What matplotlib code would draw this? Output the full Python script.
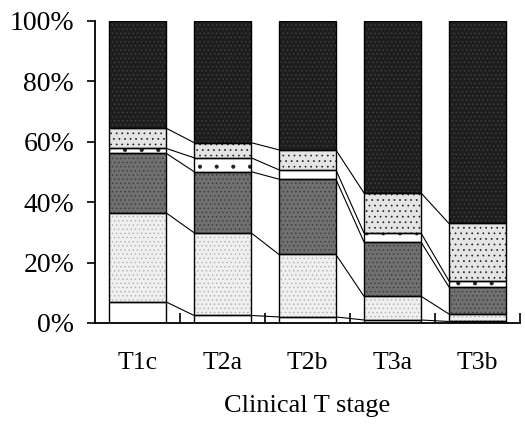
import matplotlib
matplotlib.use("Agg")
import matplotlib.pyplot as plt
import numpy as np

categories = ["T1c", "T2a", "T2b", "T3a", "T3b"]
seg_white = [7.0, 2.5, 2.0, 1.0, 0.5]
seg_light = [29.5, 27.4, 20.7, 7.9, 2.5]
seg_dark = [19.7, 20.2, 24.9, 18.0, 9.0]
seg_whitedot = [1.6, 4.6, 3.1, 3.0, 2.0]
seg_dotted = [6.7, 5.0, 6.6, 13.2, 19.0]
seg_black = [35.5, 40.3, 42.7, 56.9, 67.0]
y_ticks = [0, 20, 40, 60, 80, 100]
y_labels = ["0%", "20%", "40%", "60%", "80%", "100%"]
x_title = "Clinical T stage"

plt.rcParams['font.family'] = ['Liberation Serif', 'DejaVu Serif']
plt.rcParams['hatch.linewidth'] = 0.5

fig = plt.figure(figsize=(5.25, 4.25), dpi=100)
ax = fig.add_axes([0.181, 0.24, 0.809, 0.711])

series = [seg_white, seg_light, seg_dark, seg_whitedot, seg_dotted, seg_black]
styles = [
    dict(facecolor="white", hatch=None, hc="black"),
    dict(facecolor="#efefef", hatch="....", hc="#b0b0b0"),
    dict(facecolor="#707070", hatch="....", hc="#3a3a3a"),
    dict(facecolor="white", hatch=".", hc="#222222"),
    dict(facecolor="#e4e4e4", hatch="...", hc="#222222"),
    dict(facecolor="#1e1e1e", hatch="....", hc="#444444"),
]

x = np.arange(len(categories))
width = 0.67
bottom = np.zeros(len(categories))
tops = []
for vals, st in zip(series, styles):
    vals = np.array(vals)
    ax.bar(x, vals, width, bottom=bottom, facecolor=st["facecolor"],
           edgecolor=st["hc"], hatch=st["hatch"], linewidth=0, zorder=2)
    ax.bar(x, vals, width, bottom=bottom, facecolor="none",
           edgecolor="black", linewidth=1.0, zorder=3)
    bottom = bottom + vals
    tops.append(bottom.copy())

# series lines connecting segment tops between adjacent bars
for t in tops[:-1]:
    for i in range(len(categories) - 1):
        ax.plot([x[i] + width / 2, x[i + 1] - width / 2], [t[i], t[i + 1]],
                color="black", linewidth=0.8, zorder=1)

ax.set_xlim(-0.5, len(categories) - 0.5)
ax.set_ylim(0, 100)
ax.spines["top"].set_visible(False)
ax.spines["right"].set_visible(False)
ax.spines["left"].set_linewidth(1.3)
ax.spines["bottom"].set_linewidth(1.3)

ax.set_yticks(y_ticks)
ax.set_yticklabels(y_labels, fontsize=20)
ax.tick_params(axis="y", direction="out", length=6, width=1.2, pad=9)

ax.set_xticks(x)
ax.set_xticklabels(categories, fontsize=18.5)
ax.tick_params(axis="x", which="major", length=0, pad=21)
ax.set_xticks(np.arange(len(categories)) + 0.5, minor=True)
ax.tick_params(axis="x", which="minor", direction="in", length=7, width=1.2)
ax.set_xlabel(x_title, fontsize=19, labelpad=15)

fig.savefig("out.png", dpi=100)
